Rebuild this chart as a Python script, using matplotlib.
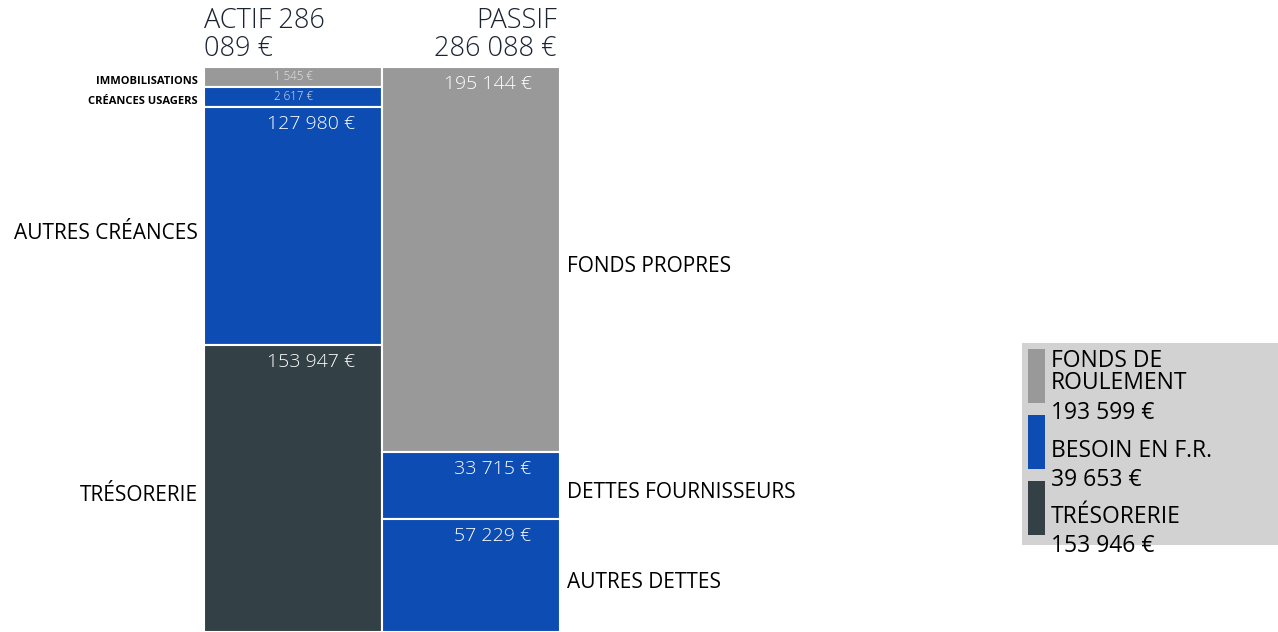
import matplotlib
matplotlib.use("Agg")
import matplotlib.pyplot as plt
from matplotlib.patches import Rectangle

plt.rcParams['font.family'] = ['Open Sans', 'DejaVu Sans']

# ---- data ----
actif_labels = ["IMMOBILISATIONS", "CRÉANCES USAGERS", "AUTRES CRÉANCES", "TRÉSORERIE"]
actif_values = [1545, 2617, 127980, 153947]
actif_colors = ["#999999", "#0d4db3", "#0d4db3", "#334045"]

passif_labels = ["FONDS PROPRES", "DETTES FOURNISSEURS", "AUTRES DETTES"]
passif_values = [195144, 33715, 57229]
passif_colors = ["#999999", "#0d4db3", "#0d4db3"]

legend_labels = ["FONDS DE\nROULEMENT", "BESOIN EN F.R.", "TRÉSORERIE"]
legend_values = [193599, 39653, 153946]
legend_colors = ["#999999", "#0d4db3", "#334045"]

actif_title = "ACTIF 286\n089 €"
passif_title = "PASSIF\n286 088 €"


def fmt(v):
    return f"{v:,}".replace(",", " ") + " €"


W, H = 1278, 632
fig = plt.figure(figsize=(W / 100, H / 100), dpi=100)
fig.patch.set_facecolor("white")

ax = fig.add_axes([204 / W, 0, (560 - 204) / W, 565 / H])
ax.set_axis_off()
total = max(sum(actif_values), sum(passif_values))
ax.set_xlim(0, 2)
ax.set_ylim(total, 0)

# actif display heights: small segments get a minimum visible height
min_h = total * 20 / 565
small = [v < min_h for v in actif_values]
rest_total = sum(v for v, s in zip(actif_values, small) if not s)
remaining = sum(actif_values) - min_h * sum(small)
disp = [min_h if s else v * remaining / rest_total for v, s in zip(actif_values, small)]

start = 0
for lab, v, h, c, s in zip(actif_labels, actif_values, disp, actif_colors, small):
    ax.bar(0, h, width=1, bottom=start, align="edge", color=c,
           edgecolor="white", linewidth=1.5)
    mid = start + h / 2
    if s:
        ax.text(0.5, mid, fmt(v), ha="center", va="center", color="#e8e8e8",
                fontsize=8.3, fontweight="light")
        ax.annotate(lab, (0, mid), xytext=(-6, -4), textcoords="offset pixels",
                    ha="right", va="center", fontsize=8.0, fontweight="bold",
                    color="black")
    else:
        ax.annotate(fmt(v), (0.85, start), xytext=(0, -17), textcoords="offset pixels",
                    ha="right", va="center", fontsize=14, color="white",
                    fontweight="light")
        ax.annotate(lab, (0, mid), xytext=(-6, -7), textcoords="offset pixels",
                    ha="right", va="center", fontsize=15, color="black")
    start += h

start = 0
for lab, v, c in zip(passif_labels, passif_values, passif_colors):
    ax.bar(1, v, width=1, bottom=start, align="edge", color=c,
           edgecolor="white", linewidth=1.5)
    mid = start + v / 2
    ax.annotate(fmt(v), (1.84, start), xytext=(0, -17), textcoords="offset pixels",
                ha="right", va="center", fontsize=14, color="white",
                fontweight="light")
    ax.annotate(lab, (2, mid), xytext=(7, -7), textcoords="offset pixels",
                ha="left", va="center", fontsize=15, color="black")
    start += v

# titles
fig.text(204 / W, 1 - 7 / H, actif_title, ha="left", va="top", fontsize=19.5,
         fontweight="light", color="#1c2434", linespacing=1.0)
fig.text(557 / W, 1 - 7 / H, passif_title, ha="right", va="top", fontsize=19.5,
         fontweight="light", color="#1c2434", linespacing=1.0)

# legend box
lax = fig.add_axes([0, 0, 1, 1], facecolor="none")
lax.set_axis_off()
lax.set_xlim(0, W)
lax.set_ylim(H, 0)
lax.add_patch(Rectangle((1022, 343), 256, 202, facecolor="#d2d2d2",
                        edgecolor="none"))
sw_top = [349, 415, 481]
fs = 16.5
for i, (lab, v, c) in enumerate(zip(legend_labels, legend_values, legend_colors)):
    y0 = sw_top[i]
    lax.add_patch(Rectangle((1028, y0), 17, 54, facecolor=c, edgecolor="none"))
    if "\n" in lab:
        lax.text(1051, y0 + 23, lab, ha="left", va="center", fontsize=fs,
                 color="black", linespacing=0.85)
        lax.text(1051, y0 + 64, fmt(v), ha="left", va="center", fontsize=fs,
                 color="black")
    else:
        lax.text(1051, y0 + 36, lab, ha="left", va="center", fontsize=fs,
                 color="black")
        lax.text(1051, y0 + 65, fmt(v), ha="left", va="center", fontsize=fs,
                 color="black")

fig.savefig("out.png", dpi=100, facecolor="white")
